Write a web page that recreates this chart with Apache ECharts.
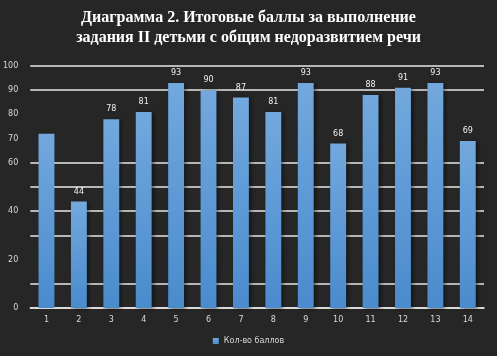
<!DOCTYPE html>
<html><head><meta charset="utf-8">
<script src="https://cdn.jsdelivr.net/npm/echarts@6/dist/echarts.min.js"></script>
<style>html,body{margin:0;padding:0;background:#262626;}#c{width:497px;height:356px;}</style>
</head><body><div id="c"></div>
<script>
const titleLines = ['Диаграмма 2. Итоговые баллы за выполнение', 'задания II детьми с общим недоразвитием речи'];
const categories = ['1','2','3','4','5','6','7','8','9','10','11','12','13','14'];
const seriesName = 'Кол-во баллов';
const values = [72, 44, 78, 81, 93, 90, 87, 81, 93, 68, 88, 91, 93, 69];
const yTickLabels = {100:'100', 90:'90', 80:'80', 70:'70', 60:'60', 40:'40', 20:'20', 0:'0'};
const gridShown = [0, 10, 30, 40, 50, 60, 90, 100];

const chart = echarts.init(document.getElementById('c'), null, {renderer:'canvas'});
const gridColors = [];
for (let v = 0; v <= 100; v += 10) gridColors.push(gridShown.includes(v) ? '#e8e8e8' : 'rgba(0,0,0,0)');

chart.setOption({
  backgroundColor: '#262626',
  title: {
    text: titleLines.join('\n'),
    left: 'center', top: 3,
    textStyle: {color:'#ffffff', fontFamily:'Liberation Serif', fontWeight:'bold', fontSize:16, lineHeight:20}
  },
  legend: {
    bottom: 6, left: 'center',
    itemWidth: 6, itemHeight: 6, itemGap: 4,
    icon: 'rect',
    textStyle: {color:'#d9d9d9', fontSize:8, fontFamily:'DejaVu Sans'},
    data: [seriesName]
  },
  grid: {left: 28, right: 13, top: 66, bottom: 48},
  xAxis: {
    type: 'category', data: categories,
    axisLine: {lineStyle:{color:'#e8e8e8', width:1.5}},
    axisTick: {show:false},
    axisLabel: {color:'#d9d9d9', fontSize:8, margin:8, fontFamily:'DejaVu Sans'}
  },
  yAxis: {
    type: 'value', min: 0, max: 100, interval: 10,
    axisLine: {show:false}, axisTick: {show:false},
    axisLabel: {color:'#d9d9d9', fontSize:8, margin:12, fontFamily:'DejaVu Sans',
      formatter: v => yTickLabels[v] !== undefined ? yTickLabels[v] : ''},
    splitLine: {lineStyle:{color: gridColors, width:1.5}}
  },
  series: [{
    name: seriesName, type: 'bar', barWidth: '49%',
    data: values.map((v, i) => i === 0 ? {value: v, label: {show:false}} : v),
    itemStyle: {
      color: new echarts.graphic.LinearGradient(0,0,0,1,[{offset:0,color:'#72a8dd'},{offset:1,color:'#4a8bcd'}]),
      shadowColor:'rgba(0,0,0,0.5)', shadowBlur:4, shadowOffsetX:2, shadowOffsetY:1
    },
    label: {show:true, position:'top', color:'#f0f0f0', fontSize:8, distance:6, fontFamily:'DejaVu Sans'}
  }]
});
</script></body></html>
